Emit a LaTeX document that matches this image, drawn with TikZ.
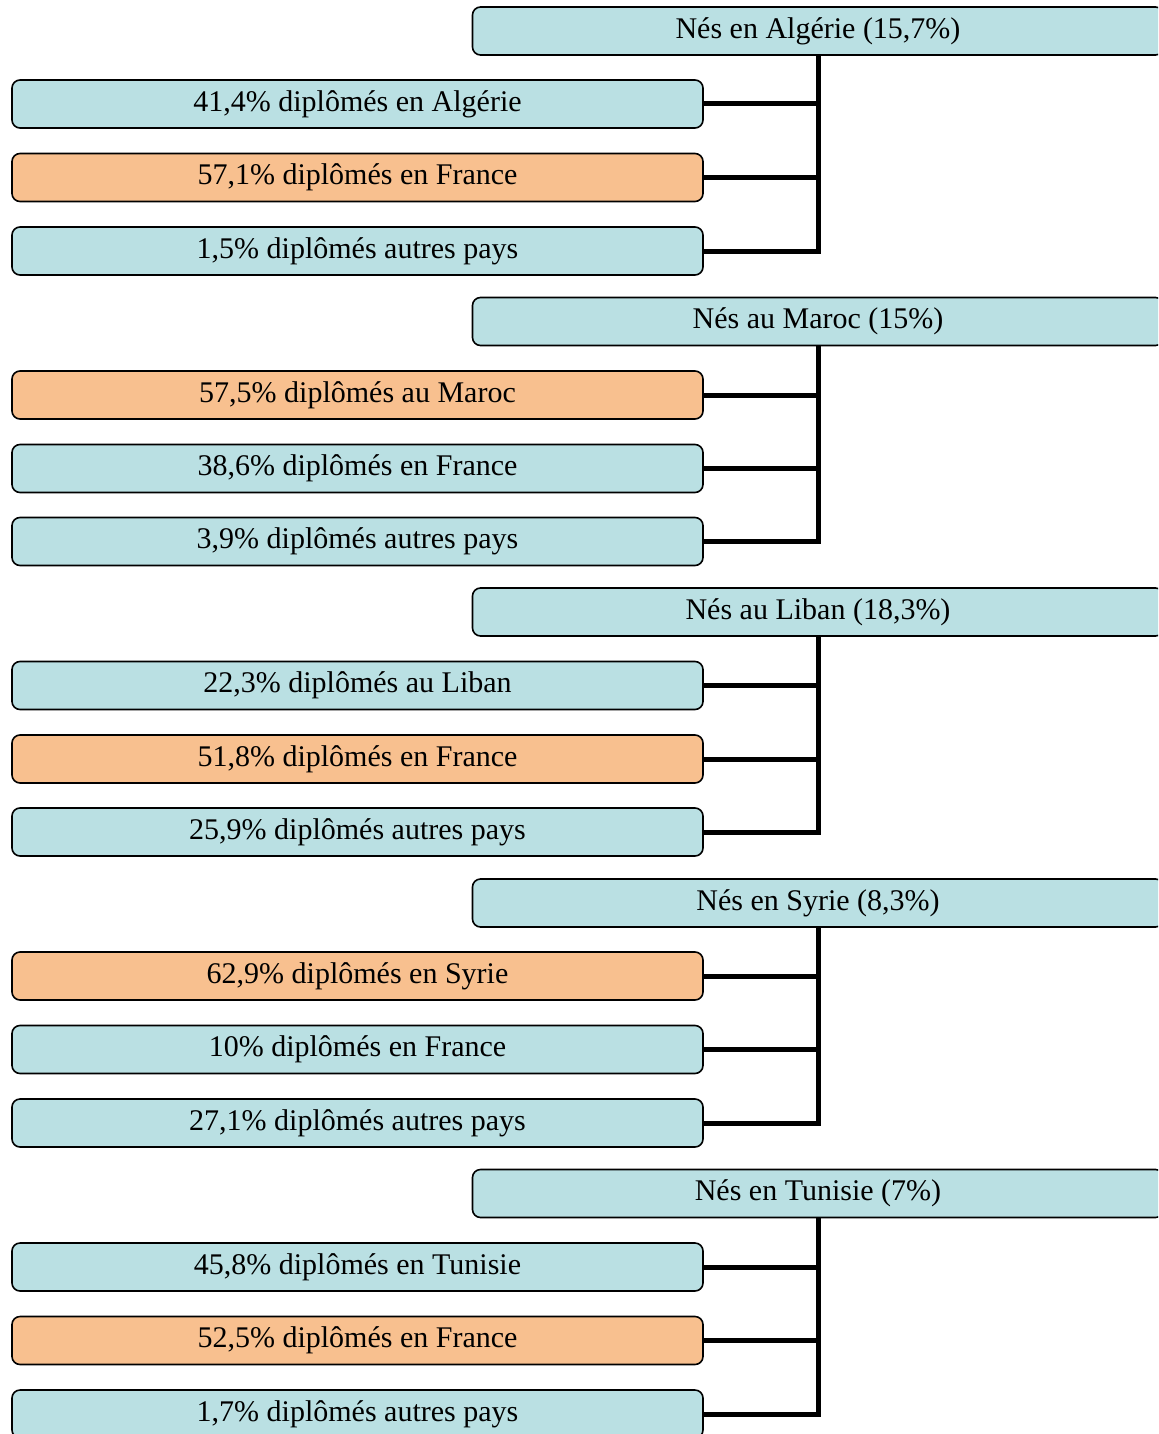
\documentclass[tikz,border=0pt]{standalone}
\usepackage{fontspec}
\setmainfont{Liberation Serif}
\usetikzlibrary{calc}
\definecolor{BoxClr}{RGB}{186,224,227}
\definecolor{MainClr}{RGB}{248,192,143}
\tikzset{
  box/.style={draw=black,line width=0.8pt,rounded corners=4pt,fill=BoxClr,
    minimum width=345.5pt,minimum height=24pt,inner sep=0pt,
    font=\fontsize{15}{17}\selectfont},
  mainbox/.style={box,fill=MainClr},
  link/.style={line width=2.5pt,black}
}
\begin{document}
\begin{tikzpicture}[x=0.5pt,y=-0.5pt]
\clip (0,0) rectangle (1158,1434);

% Algerie
\node[box] (alg) at (818,31) {Nés en Algérie (15,7\%)};
\node[box] (alg1) at (357.5,104) {41,4\% diplômés en Algérie};
\node[mainbox] (alg2) at (357.5,177.5) {57,1\% diplômés en France};
\node[box] (alg3) at (357.5,251) {1,5\% diplômés autres pays};

% Maroc
\node[box] (mar) at (818,321.5) {Nés au Maroc (15\%)};
\node[mainbox] (mar1) at (357.5,395) {57,5\% diplômés au Maroc};
\node[box] (mar2) at (357.5,468.5) {38,6\% diplômés en France};
\node[box] (mar3) at (357.5,541.5) {3,9\% diplômés autres pays};

% Liban
\node[box] (lib) at (818,612) {Nés au Liban (18,3\%)};
\node[box] (lib1) at (357.5,685.5) {22,3\% diplômés au Liban};
\node[mainbox] (lib2) at (357.5,759) {51,8\% diplômés en France};
\node[box] (lib3) at (357.5,832) {25,9\% diplômés autres pays};

% Syrie
\node[box] (syr) at (818,903) {Nés en Syrie (8,3\%)};
\node[mainbox] (syr1) at (357.5,976) {62,9\% diplômés en Syrie};
\node[box] (syr2) at (357.5,1049.5) {10\% diplômés en France};
\node[box] (syr3) at (357.5,1123) {27,1\% diplômés autres pays};

% Tunisie
\node[box] (tun) at (818,1193.5) {Nés en Tunisie (7\%)};
\node[box] (tun1) at (357.5,1267) {45,8\% diplômés en Tunisie};
\node[mainbox] (tun2) at (357.5,1340.5) {52,5\% diplômés en France};
\node[box] (tun3) at (357.5,1414) {1,7\% diplômés autres pays};

\foreach \g in {alg,mar,lib,syr,tun}{
  \draw[link] (\g1.east) -| (\g.south);
  \draw[link] (\g2.east) -| (\g.south);
  \draw[link] (\g3.east) -| (\g.south);
}

\end{tikzpicture}
\end{document}
